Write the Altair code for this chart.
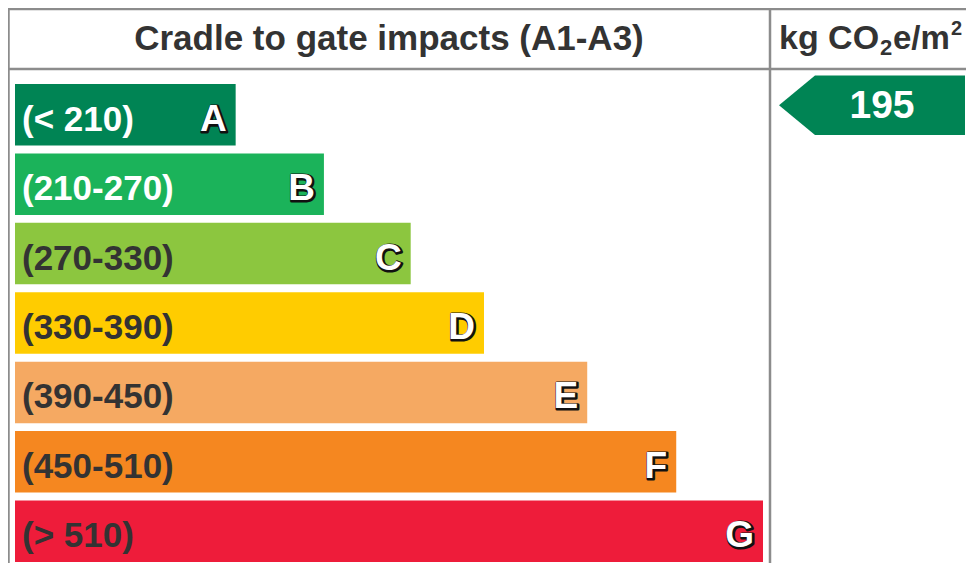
import altair as alt
import pandas as pd

# ---- data ----
grades = ["A", "B", "C", "D", "E", "F", "G"]
ranges = ["(< 210)", "(210-270)", "(270-330)", "(330-390)", "(390-450)", "(450-510)", "(> 510)"]
bar_length = [29.5, 41.3, 52.9, 62.7, 76.5, 88.4, 100.0]   # relative band lengths
bar_colors = ["#008454", "#1bb35a", "#8cc63f", "#ffcc00", "#f5a962", "#f58720", "#ee1c3a"]
label_colors = ["#ffffff", "#ffffff", "#333333", "#333333", "#333333", "#333333", "#333333"]
header_left = "Cradle to gate impacts (A1-A3)"
unit_parts = ["kg CO", "2", "e/m", "2"]
result_value = 195
result_grade = "A"

FONT = "Liberation Sans"
FRAME = "#8c8c8c"
W, H = 958, 555

df = pd.DataFrame({
    "grade": grades, "range": ranges, "length": bar_length,
    "start": [0.0] * len(grades),
    "color": bar_colors, "label_color": label_colors,
})

xscale = alt.Scale(domain=[0, 100], range=[7, 755])
yscale = alt.Scale(domain=grades, range=[76, 554], paddingInner=0.114, paddingOuter=0)
Y = alt.Y("grade:N", scale=yscale, axis=None)

bars = alt.Chart(df).mark_bar(cornerRadius=0).encode(
    x=alt.X("length:Q", scale=xscale, axis=None),
    y=Y,
    color=alt.Color("color:N", scale=None, legend=None),
)

labels = alt.Chart(df).mark_text(
    align="left", baseline="middle", dx=7, dy=5, fontSize=35, fontWeight="bold", font=FONT
).encode(
    x=alt.X("start:Q", scale=xscale, axis=None),
    y=Y,
    text="range:N",
    color=alt.Color("label_color:N", scale=None, legend=None),
)

# letter: dark outline/shadow underneath, white glyph on top
letters_outline = alt.Chart(df).mark_text(
    align="right", baseline="middle", dx=-8, dy=6, fontSize=37, fontWeight="bold", font=FONT,
    fill="#111111", stroke="#111111", strokeWidth=3.2, strokeJoin="round",
).encode(
    x=alt.X("length:Q", scale=xscale, axis=None),
    y=Y,
    text="grade:N",
)
letters = alt.Chart(df).mark_text(
    align="right", baseline="middle", dx=-9, dy=5, fontSize=37, fontWeight="bold", font=FONT,
    fill="white",
).encode(
    x=alt.X("length:Q", scale=xscale, axis=None),
    y=Y,
    text="grade:N",
)

# frame lines
frame_df = pd.DataFrame({"k": [0]})
def hline(y):
    return alt.Chart(frame_df).mark_rule(color=FRAME, strokeWidth=2.5).encode(
        x=alt.value(0), x2=alt.value(W), y=alt.value(y))
def vline(x):
    return alt.Chart(frame_df).mark_rule(color=FRAME, strokeWidth=2.5).encode(
        x=alt.value(x), y=alt.value(0), y2=alt.value(H))

frame = [hline(1), hline(61), vline(0.5), vline(762)]

header = alt.Chart(pd.DataFrame({"t": [header_left]})).mark_text(
    align="center", baseline="middle", fontSize=35, fontWeight="bold", font=FONT, color="#333333"
).encode(x=alt.value(381), y=alt.value(31), text="t:N")

unit_specs = [(771, 34, 0), (872, 22, 9), (885, 33, 0), (943, 20, -10)]
unit_layers = []
for part, (ux, fs, dyy) in zip(unit_parts, unit_specs):
    unit_layers.append(
        alt.Chart(pd.DataFrame({"t": [part]})).mark_text(
            align="left", baseline="middle", fontSize=fs, fontWeight="bold", font=FONT,
            color="#333333", dy=dyy,
        ).encode(x=alt.value(ux), y=alt.value(31), text="t:N")
    )

res_df = pd.DataFrame({"grade": [result_grade], "value": [str(result_value)]})
arrow_path = "M-1,0L-0.613,-0.32L1,-0.32L1,0.32L-0.613,0.32Z"
arrow = alt.Chart(res_df).mark_point(
    shape=arrow_path, size=186 ** 2, filled=True, opacity=1, color=bar_colors[0],
    strokeWidth=0, yOffset=-9.5,
).encode(x=alt.value(864), y=Y)

arrow_text = alt.Chart(res_df).mark_text(
    align="center", baseline="middle", fontSize=39, fontWeight="bold", font=FONT,
    color="white", dy=-8.5,
).encode(x=alt.value(874), y=Y, text="value:N")

chart = alt.layer(
    bars, labels, letters_outline, letters, *frame, header, *unit_layers, arrow, arrow_text
).properties(
    width=W, height=H, padding=0, autosize=alt.AutoSizeParams(type="none"),
    background="white",
).configure_view(stroke=None)

chart.save("out.html", embed_options={"renderer": "svg", "actions": False})
